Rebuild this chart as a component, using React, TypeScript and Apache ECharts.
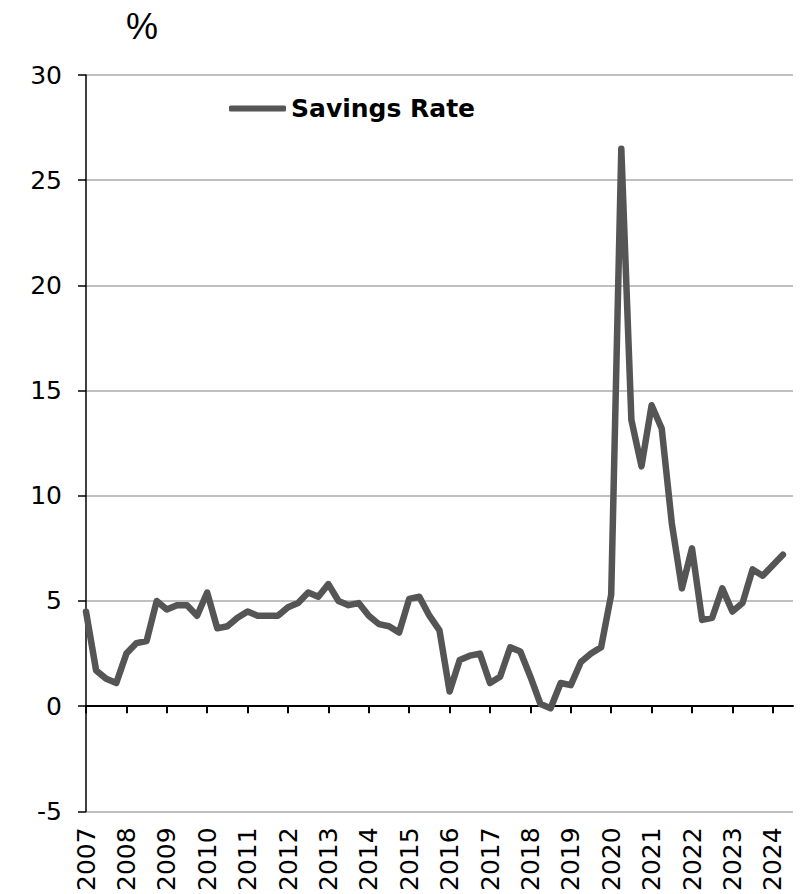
import { useEffect, useRef } from 'react';
import * as echarts from 'echarts';

// Quarterly categories from 2007 Q1; the axis runs one quarter past the last observation.
const years = [2007, 2008, 2009, 2010, 2011, 2012, 2013, 2014, 2015, 2016, 2017, 2018, 2019, 2020, 2021, 2022, 2023, 2024];
const quarters = ['Q1', 'Q2', 'Q3', 'Q4'];
const quarterLabels = years.flatMap((y) => quarters.map((q) => `${y} ${q}`)).slice(0, 71);

// Household savings rate, % (quarterly, 2007 Q1 – 2024 Q2)
const savingsRate = [
  4.5, 1.7, 1.3, 1.1, 2.5, 3.0, 3.1, 5.0, 4.6, 4.8,
  4.8, 4.3, 5.4, 3.7, 3.8, 4.2, 4.5, 4.3, 4.3, 4.3,
  4.7, 4.9, 5.4, 5.2, 5.8, 5.0, 4.8, 4.9, 4.3, 3.9,
  3.8, 3.5, 5.1, 5.2, 4.3, 3.6, 0.7, 2.2, 2.4, 2.5,
  1.1, 1.4, 2.8, 2.6, 1.4, 0.1, -0.1, 1.1, 1.0, 2.1,
  2.5, 2.8, 5.3, 26.5, 13.6, 11.4, 14.3, 13.2, 8.7, 5.6,
  7.5, 4.1, 4.2, 5.6, 4.5, 4.9, 6.5, 6.2, 6.7, 7.2,
];

const FONT = '"DejaVu Sans", "Liberation Sans", Arial, sans-serif';
const LINE_COLOR = '#555555';

const isYearStart = (index: number) => index % 4 === 0;

export default function App() {
  const ref = useRef<HTMLDivElement>(null);

  useEffect(() => {
    if (!ref.current) return;
    const chart = echarts.init(ref.current, null, { renderer: 'svg' });
    chart.setOption({
      animation: false,
      backgroundColor: '#ffffff',
      title: {
        text: '%',
        left: 121,
        top: 3,
        textStyle: { fontFamily: '"Liberation Sans", Arial, sans-serif', fontSize: 36, fontWeight: 'normal', color: '#000' },
      },
      legend: {
        left: 229,
        top: 96,
        padding: 0,
        icon: 'roundRect',
        itemWidth: 57,
        itemHeight: 6,
        selectedMode: false,
        itemStyle: { color: LINE_COLOR },
        textStyle: { fontFamily: FONT, fontSize: 25, fontWeight: 'bold', color: '#000' },
        data: ['Savings Rate'],
      },
      grid: { left: 86, right: 15, top: 75, bottom: 82 },
      xAxis: [
        {
          // year labels along the bottom of the plot
          type: 'category',
          data: quarterLabels,
          boundaryGap: false,
          position: 'bottom',
          axisLine: { show: false, onZero: false },
          axisTick: { show: false },
          splitLine: { show: false },
          axisLabel: {
            rotate: 90,
            margin: 16,
            interval: (index: number) => isYearStart(index),
            formatter: (value: string) => value.slice(0, 4),
            fontFamily: FONT,
            fontSize: 25,
            color: '#000',
          },
        },
        {
          // zero line with yearly tick marks
          type: 'category',
          data: quarterLabels,
          boundaryGap: false,
          position: 'bottom',
          axisLine: { show: true, onZero: true, lineStyle: { color: '#000', width: 2 } },
          axisTick: { show: true, length: 7, interval: (index: number) => isYearStart(index), lineStyle: { color: '#000', width: 2 } },
          axisLabel: { show: false },
          splitLine: { show: false },
        },
      ],
      yAxis: {
        type: 'value',
        min: -5,
        max: 30,
        interval: 5,
        axisLine: { show: true, lineStyle: { color: '#000', width: 1.5 } },
        axisTick: { show: true, length: 8, lineStyle: { color: '#000', width: 1.5 } },
        axisLabel: { margin: 24, fontFamily: FONT, fontSize: 25, color: '#000' },
        splitLine: { show: true, lineStyle: { color: '#c0c0c0', width: 2 } },
      },
      series: [
        {
          name: 'Savings Rate',
          type: 'line',
          xAxisIndex: 0,
          data: savingsRate,
          symbol: 'none',
          silent: true,
          lineStyle: { color: LINE_COLOR, width: 6.5, cap: 'round', join: 'round' },
          itemStyle: { color: LINE_COLOR },
          emphasis: { disabled: true },
          z: 3,
        },
      ],
    });
    return () => chart.dispose();
  }, []);

  return <div ref={ref} style={{ position: 'fixed', left: 0, top: 0, width: 808, height: 894 }} />;
}
